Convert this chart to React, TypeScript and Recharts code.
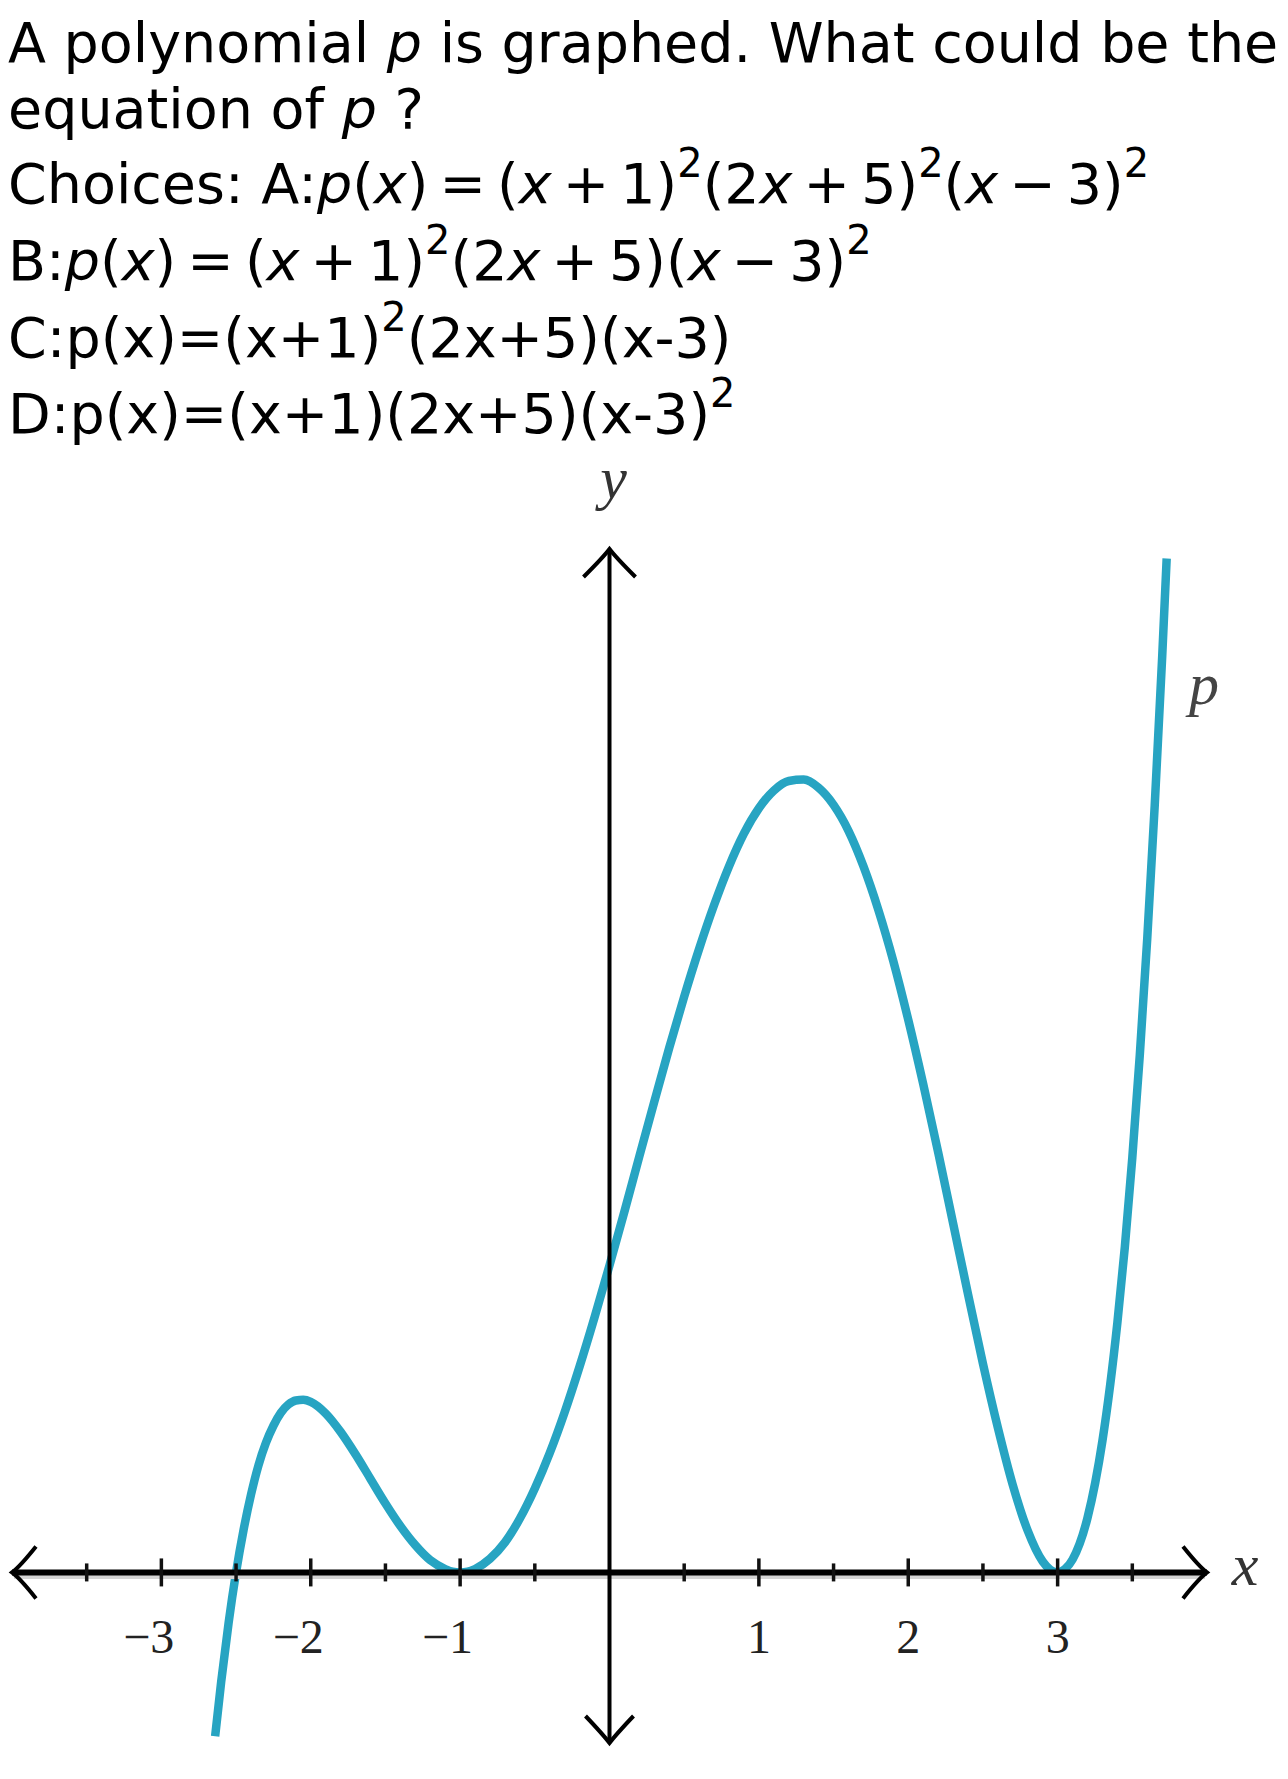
import { LineChart, Line, XAxis, YAxis, ReferenceLine, ReferenceDot } from "recharts";

// sampled points of the graphed polynomial p
const curveX = [-2.64, -2.6, -2.55, -2.5, -2.45, -2.4, -2.35, -2.3, -2.25, -2.2, -2.15, -2.1, -2.05, -2.0, -1.9, -1.8, -1.7, -1.6, -1.5, -1.4, -1.3, -1.2, -1.1, -1.05, -1.0, -0.95, -0.9, -0.8, -0.7, -0.6, -0.5, -0.4, -0.3, -0.2, -0.1, 0, 0.1, 0.2, 0.3, 0.4, 0.5, 0.6, 0.7, 0.8, 0.9, 1.0, 1.1, 1.2, 1.3, 1.4, 1.5, 1.6, 1.7, 1.8, 1.9, 2.0, 2.1, 2.2, 2.3, 2.4, 2.5, 2.6, 2.7, 2.8, 2.9, 2.95, 3.0, 3.05, 3.1, 3.2, 3.3, 3.4, 3.45, 3.5, 3.55, 3.6, 3.65, 3.7, 3.73];
const curveY = [-24.0, -16.1, -7.4, 0, 6.2, 11.4, 15.7, 19.0, 21.5, 23.4, 24.6, 25.2, 25.3, 25.0, 23.3, 20.6, 17.3, 13.7, 10.1, 6.8, 4.0, 1.8, 0.5, 0.1, 0, 0.1, 0.5, 2.0, 4.4, 7.9, 12.3, 17.5, 23.5, 30.2, 37.4, 45.0, 52.9, 61.0, 69.0, 76.9, 84.4, 91.4, 97.8, 103.5, 108.3, 112.0, 114.6, 116.0, 116.2, 115.0, 112.5, 108.7, 103.5, 97.1, 89.6, 81.0, 71.6, 61.6, 51.2, 40.8, 30.6, 21.2, 12.8, 6.1, 1.6, 0.4, 0, 0.5, 1.9, 8.0, 19.3, 36.6, 47.7, 60.8, 75.8, 92.9, 112.4, 134.2, 148.6];

const tickValues = [-3.5, -3, -2.5, -2, -1.5, -1, -0.5, 0.5, 1, 1.5, 2, 2.5, 3, 3.5];
const labelValues = [-3, -2, -1, 1, 2, 3];
const tickLabels = ["−3", "−2", "−1", "1", "2", "3"];

const data = curveX.map((x, i) => ({ x, y: curveY[i] }));

const CURVE = "#27a4c2";
const serif = "'Liberation Serif', 'Times New Roman', serif";

function XAxisShape(p: any) {
  const { x1, x2, y1 } = p;
  return (
    <g>
      <line x1={x1 + 2} x2={x2 - 2} y1={y1 + 4} y2={y1 + 4} stroke="#d4d4d4" strokeWidth={5} />
      <line x1={x1} x2={x2} y1={y1} y2={y1} stroke="#000" strokeWidth={6} />
      <path d={`M${x1 + 24} ${y1 - 26} Q${x1 + 8} ${y1 - 6} ${x1} ${y1} Q${x1 + 8} ${y1 + 6} ${x1 + 24} ${y1 + 26}`} fill="none" stroke="#000" strokeWidth={4} />
      <path d={`M${x2 - 24} ${y1 - 26} Q${x2 - 8} ${y1 - 6} ${x2} ${y1} Q${x2 - 8} ${y1 + 6} ${x2 - 24} ${y1 + 26}`} fill="none" stroke="#000" strokeWidth={4} />
      <text x={x2 + 38} y={y1 + 13} textAnchor="middle" fontFamily={serif} fontStyle="italic" fontSize={60} fill="#333">x</text>
    </g>
  );
}

function YAxisShape(p: any) {
  const { x1, y1, y2 } = p;
  const top = Math.min(y1, y2);
  const bot = Math.max(y1, y2);
  return (
    <g>
      <line x1={x1} x2={x1} y1={top} y2={bot} stroke="#000" strokeWidth={4} />
      <path d={`M${x1 - 26} ${top + 28} Q${x1 - 6} ${top + 8} ${x1} ${top} Q${x1 + 6} ${top + 8} ${x1 + 26} ${top + 28}`} fill="none" stroke="#000" strokeWidth={4} />
      <path d={`M${x1 - 24} ${bot - 27} Q${x1 - 6} ${bot - 8} ${x1} ${bot} Q${x1 + 6} ${bot - 8} ${x1 + 24} ${bot - 27}`} fill="none" stroke="#000" strokeWidth={4} />
      <text x={x1 + 4} y={top - 51} textAnchor="middle" fontFamily={serif} fontStyle="italic" fontSize={60} fill="#333">y</text>
    </g>
  );
}

function TickMark({ cx, cy, value }: { cx: number; cy: number; value: number }) {
  const idx = labelValues.indexOf(value);
  const major = idx >= 0;
  const h = major ? 14 : 9;
  return (
    <g>
      <line x1={cx} x2={cx} y1={cy - h} y2={cy + h} stroke="#111" strokeWidth={3.5} />
      {major && (
        <text
          x={value < 0 ? cx + 13 : cx}
          y={cy + 81}
          textAnchor={value < 0 ? "end" : "middle"}
          fontFamily={serif}
          fontSize={48}
          fill="#222"
        >
          {tickLabels[idx]}
        </text>
      )}
    </g>
  );
}

const lineBox = (top: number): React.CSSProperties => ({
  position: "absolute",
  left: 0,
  top,
  height: 66,
  lineHeight: "66px",
  whiteSpace: "nowrap",
});

const supStyle: React.CSSProperties = { fontSize: "0.72em", verticalAlign: 26, lineHeight: 0 };

// narrow math space around = + −
const S = () => <span style={{ display: "inline-block", width: "0.2em" }} />;
const Sup = () => <span style={supStyle}>2</span>;

export default function App() {
  return (
    <div
      style={{
        position: "relative",
        width: 1272,
        height: 1763,
        fontFamily: "'DejaVu Sans', sans-serif",
        fontSize: 55.5,
        color: "#000",
      }}
    >
      <div style={lineBox(1.8)}>
        A polynomial <i>p</i> is graphed. What could be the
      </div>
      <div style={lineBox(67.8)}>
        equation of <i>p</i> ?
      </div>
      <div style={lineBox(142.8)}>
        Choices: A:<i>p</i>(<i>x</i>)<S />=<S />(<i>x</i><S />+<S />1)<Sup />(2<i>x</i><S />+<S />5)<Sup />(<i>x</i><S />−<S />3)<Sup />
      </div>
      <div style={lineBox(219.8)}>
        B:<i>p</i>(<i>x</i>)<S />=<S />(<i>x</i><S />+<S />1)<Sup />(2<i>x</i><S />+<S />5)(<i>x</i><S />−<S />3)<Sup />
      </div>
      <div style={lineBox(296.8)}>
        C:p(x)=(x+1)<Sup />(2x+5)(x-3)
      </div>
      <div style={lineBox(372.8)}>
        D:p(x)=(x+1)(2x+5)(x-3)<Sup />
      </div>

      <div style={{ position: "absolute", left: 0, top: 432 }}>
        <LineChart width={1272} height={1330} data={data} margin={{ top: 109, right: 73, bottom: 27, left: 4 }}>
          <XAxis dataKey="x" type="number" domain={[-4, 4]} hide />
          <YAxis type="number" domain={[-25, 150]} hide />
          <Line
            dataKey="y"
            type="monotone"
            stroke={CURVE}
            strokeWidth={8.5}
            dot={false}
            activeDot={false}
            isAnimationActive={false}
          />
          <ReferenceLine y={0} shape={(p: any) => <XAxisShape {...p} />} />
          <ReferenceLine x={0} shape={(p: any) => <YAxisShape {...p} />} />
          {tickValues.map((t) => (
            <ReferenceDot
              key={t}
              x={t}
              y={0}
              r={0}
              shape={(p: any) => <TickMark cx={p.cx} cy={p.cy} value={t} />}
            />
          ))}
          <ReferenceDot
            x={3.98}
            y={129}
            r={0}
            shape={(p: any) => (
              <text x={p.cx} y={p.cy + 12} textAnchor="middle" fontFamily={serif} fontStyle="italic" fontSize={60} fill="#444">
                p
              </text>
            )}
          />
        </LineChart>
      </div>
    </div>
  );
}
